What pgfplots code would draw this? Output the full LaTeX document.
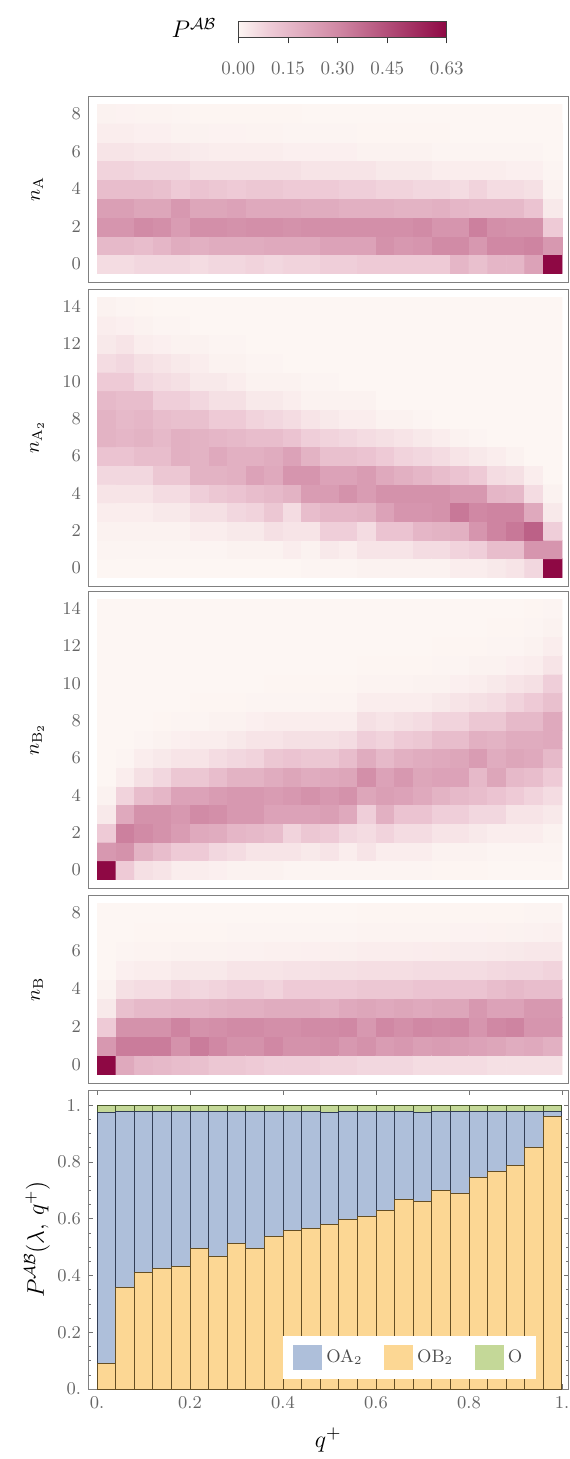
\documentclass[border=0pt]{standalone}
\usepackage{pgfplots}
\pgfplotsset{compat=1.18}
\definecolor{blueF}{RGB}{174,191,218}
\definecolor{orangeF}{RGB}{252,215,148}
\definecolor{greenF}{RGB}{196,216,152}
\definecolor{blueE}{RGB}{50,62,85}
\definecolor{orangeE}{RGB}{100,78,35}
\definecolor{greenE}{RGB}{70,85,40}
\pgfplotsset{
  colormap={pinkmap}{rgb255(0cm)=(253,246,243); rgb255(1cm)=(238,202,214); rgb255(3cm)=(208,136,164); rgb255(6.3cm)=(142,8,68)},
  hm/.style={scale only axis, width=240.25pt, anchor=north west,
    xmin=-1.011, xmax=24.85, xtick=\empty, major tick length=0pt,
    axis line style={black!50},
    colormap name=pinkmap, point meta min=0, point meta max=0.63,
    yticklabel style={font=\fontsize{9}{10}\selectfont, text=black!60},
    ylabel style={at={(rel axis cs:-0.106,0.5)}, anchor=center, font=\fontsize{10}{12}\selectfont}},
}
\pgfplotstableread{
x ob oa o
0.02 0.090 0.883 0.027
0.06 0.356 0.623 0.021
0.10 0.411 0.568 0.021
0.14 0.426 0.553 0.021
0.18 0.431 0.548 0.021
0.22 0.494 0.485 0.021
0.26 0.467 0.512 0.021
0.30 0.512 0.467 0.021
0.34 0.494 0.485 0.021
0.38 0.536 0.443 0.021
0.42 0.558 0.421 0.021
0.46 0.565 0.414 0.021
0.50 0.580 0.395 0.025
0.54 0.598 0.381 0.021
0.58 0.608 0.371 0.021
0.62 0.628 0.351 0.021
0.66 0.669 0.310 0.021
0.70 0.659 0.316 0.025
0.74 0.700 0.278 0.022
0.78 0.687 0.291 0.022
0.82 0.745 0.233 0.022
0.86 0.767 0.211 0.022
0.90 0.787 0.191 0.022
0.94 0.852 0.126 0.022
0.98 0.958 0.020 0.022
}\bardata
\begin{document}
\begin{tikzpicture}
\useasboundingbox (0,0) rectangle (284.5pt,-729.5pt);
\node[font=\fontsize{12}{14}\selectfont] at (97pt,-14pt) {$P^{\mathcal{AB}}$};
% ---------------- colour bar
\begin{axis}[at={(119.15pt,-18.65pt)}, anchor=south west, scale only axis,
  width=104.2pt, height=7.8pt, xmin=0, xmax=0.63, ymin=0, ymax=1,
  ytick=\empty, xtick={0,0.15,0.3,0.45,0.63}, xticklabels={0.00,0.15,0.30,0.45,0.63},
  xtick align=outside, xtick pos=left, major tick length=3pt,
  xticklabel style={font=\fontsize{9.5}{11}\selectfont, text=black!60, yshift=-5.5pt},
  axis line style={black!75}, tick style={black!80}, axis on top,
  colormap name=pinkmap, point meta min=0, point meta max=0.63]
\addplot[surf, shader=interp, point meta=x] coordinates {
(0,0) (0.1,0) (0.3,0) (0.63,0)

(0,1) (0.1,1) (0.3,1) (0.63,1)
};
\end{axis}
% ---------------- n_A
\begin{axis}[hm, at={(44pt,-48pt)}, height=93pt, ymin=-0.953, ymax=8.953,
  ytick={0,2,...,8}, ylabel={$n_{\mathrm{A}}$}]
\addplot[matrix plot*, mesh/cols=25, mesh/rows=9, point meta=explicit]
 table[row sep=\\, x expr={mod(\coordindex,25)}, y expr={floor((\coordindex+0.5)/25)}, meta=v] {
v\\
0.06\\0.06\\0.07\\0.07\\0.07\\0.06\\0.07\\0.07\\0.08\\0.07\\0.08\\0.08\\0.09\\0.09\\0.10\\0.10\\0.10\\0.10\\0.10\\0.16\\0.13\\0.16\\0.16\\0.22\\0.63\\
0.15\\0.15\\0.14\\0.16\\0.19\\0.18\\0.19\\0.19\\0.19\\0.20\\0.20\\0.20\\0.22\\0.22\\0.22\\0.27\\0.25\\0.26\\0.29\\0.29\\0.25\\0.30\\0.30\\0.31\\0.25\\
0.26\\0.26\\0.29\\0.28\\0.24\\0.28\\0.28\\0.27\\0.28\\0.28\\0.27\\0.28\\0.28\\0.28\\0.28\\0.28\\0.28\\0.29\\0.26\\0.26\\0.32\\0.28\\0.27\\0.27\\0.10\\
0.23\\0.23\\0.21\\0.21\\0.25\\0.21\\0.21\\0.22\\0.20\\0.20\\0.20\\0.19\\0.19\\0.18\\0.18\\0.18\\0.17\\0.17\\0.18\\0.16\\0.15\\0.15\\0.15\\0.12\\0.03\\
0.14\\0.14\\0.14\\0.13\\0.10\\0.12\\0.11\\0.10\\0.11\\0.11\\0.10\\0.10\\0.10\\0.09\\0.09\\0.08\\0.08\\0.07\\0.07\\0.06\\0.08\\0.06\\0.06\\0.05\\0.01\\
0.08\\0.08\\0.07\\0.07\\0.07\\0.05\\0.05\\0.05\\0.05\\0.05\\0.05\\0.04\\0.04\\0.04\\0.04\\0.03\\0.03\\0.03\\0.02\\0.02\\0.02\\0.02\\0.015\\0.015\\0.005\\
0.04\\0.04\\0.035\\0.035\\0.03\\0.025\\0.02\\0.02\\0.02\\0.02\\0.015\\0.015\\0.015\\0.015\\0.01\\0.01\\0.01\\0.01\\0.005\\0.005\\0.005\\0.005\\0.005\\0.005\\0\\
0.02\\0.02\\0.015\\0.015\\0.01\\0.01\\0.008\\0.008\\0.006\\0.006\\0.005\\0.005\\0.004\\0.004\\0.003\\0.003\\0.002\\0.002\\0.002\\0.001\\0.001\\0.001\\0.001\\0.001\\0\\
0.01\\0.008\\0.006\\0.006\\0.004\\0.003\\0.003\\0.002\\0.002\\0.002\\0.002\\0.001\\0.001\\0.001\\0.001\\0.001\\0.001\\0\\0\\0\\0\\0\\0\\0\\0\\
};
\end{axis}
% ---------------- n_A2
\begin{axis}[hm, at={(44pt,-144.5pt)}, height=148.5pt, ymin=-0.955, ymax=14.955,
  ytick={0,2,...,14}, ylabel={$n_{\mathrm{A}_2}$}]
\addplot[matrix plot*, mesh/cols=25, mesh/rows=15, mesh/ordering=y varies, point meta=explicit]
 table[row sep=\\, x expr={floor((\coordindex+0.5)/15)}, y expr={mod(\coordindex,15)}, meta=v] {
v\\
0\\0.005\\0.01\\0.02\\0.04\\0.07\\0.12\\0.17\\0.17\\0.15\\0.10\\0.06\\0.03\\0.02\\0.01\\
0\\0.005\\0.01\\0.02\\0.04\\0.07\\0.12\\0.16\\0.15\\0.14\\0.10\\0.07\\0.04\\0.015\\0.005\\
0\\0.005\\0.01\\0.02\\0.04\\0.07\\0.14\\0.17\\0.16\\0.14\\0.07\\0.05\\0.02\\0.01\\0.003\\
0\\0.005\\0.01\\0.03\\0.06\\0.11\\0.14\\0.15\\0.14\\0.09\\0.06\\0.04\\0.015\\0.005\\0\\
0\\0.005\\0.01\\0.03\\0.06\\0.11\\0.18\\0.18\\0.13\\0.09\\0.05\\0.03\\0.01\\0.005\\0\\
0\\0.005\\0.02\\0.05\\0.09\\0.17\\0.17\\0.17\\0.13\\0.07\\0.03\\0.02\\0.01\\0\\0\\
0\\0.005\\0.02\\0.05\\0.11\\0.17\\0.20\\0.16\\0.10\\0.05\\0.03\\0.01\\0.005\\0\\0\\
0\\0.01\\0.03\\0.07\\0.12\\0.18\\0.18\\0.15\\0.10\\0.05\\0.02\\0.01\\0.005\\0\\0\\
0\\0.01\\0.03\\0.08\\0.14\\0.22\\0.18\\0.14\\0.08\\0.03\\0.01\\0.005\\0\\0\\0\\
0\\0.01\\0.05\\0.11\\0.15\\0.20\\0.19\\0.14\\0.07\\0.03\\0.01\\0.005\\0\\0\\0\\
0\\0.02\\0.04\\0.06\\0.17\\0.26\\0.22\\0.12\\0.06\\0.02\\0.01\\0\\0\\0\\0\\
0.005\\0.01\\0.04\\0.14\\0.24\\0.26\\0.17\\0.09\\0.04\\0.01\\0.005\\0\\0\\0\\0\\
0.005\\0.03\\0.09\\0.16\\0.24\\0.22\\0.13\\0.08\\0.03\\0.01\\0.005\\0\\0\\0\\0\\
0.005\\0.02\\0.09\\0.16\\0.27\\0.22\\0.13\\0.07\\0.02\\0.01\\0\\0\\0\\0\\0\\
0.01\\0.04\\0.06\\0.17\\0.24\\0.24\\0.12\\0.06\\0.02\\0.01\\0\\0\\0\\0\\0\\
0.01\\0.04\\0.12\\0.22\\0.27\\0.20\\0.10\\0.05\\0.01\\0\\0\\0\\0\\0\\0\\
0.01\\0.04\\0.12\\0.26\\0.27\\0.18\\0.08\\0.04\\0.01\\0\\0\\0\\0\\0\\0\\
0.01\\0.06\\0.16\\0.26\\0.27\\0.16\\0.07\\0.03\\0.005\\0\\0\\0\\0\\0\\0\\
0.01\\0.06\\0.17\\0.27\\0.27\\0.14\\0.06\\0.02\\0\\0\\0\\0\\0\\0\\0\\
0.02\\0.08\\0.18\\0.34\\0.25\\0.12\\0.04\\0.01\\0\\0\\0\\0\\0\\0\\0\\
0.02\\0.09\\0.26\\0.30\\0.25\\0.10\\0.03\\0.005\\0\\0\\0\\0\\0\\0\\0\\
0.03\\0.14\\0.31\\0.31\\0.16\\0.06\\0.02\\0\\0\\0\\0\\0\\0\\0\\0\\
0.04\\0.14\\0.34\\0.31\\0.15\\0.05\\0.01\\0\\0\\0\\0\\0\\0\\0\\0\\
0.07\\0.26\\0.40\\0.20\\0.06\\0.02\\0\\0\\0\\0\\0\\0\\0\\0\\0\\
0.63\\0.26\\0.09\\0.03\\0.01\\0\\0\\0\\0\\0\\0\\0\\0\\0\\0\\
};
\end{axis}
% ---------------- n_B2
\begin{axis}[hm, at={(44pt,-295.5pt)}, height=148.5pt, ymin=-0.955, ymax=14.955,
  ytick={0,2,...,14}, ylabel={$n_{\mathrm{B}_2}$}]
\addplot[matrix plot*, mesh/cols=25, mesh/rows=15, mesh/ordering=y varies, point meta=explicit]
 table[row sep=\\, x expr={floor((\coordindex+0.5)/15)}, y expr={mod(\coordindex,15)}, meta=v] {
v\\
0.63\\0.25\\0.10\\0.03\\0.01\\0\\0\\0\\0\\0\\0\\0\\0\\0\\0\\
0.10\\0.27\\0.32\\0.20\\0.08\\0.02\\0.005\\0\\0\\0\\0\\0\\0\\0\\0\\
0.05\\0.17\\0.29\\0.27\\0.14\\0.05\\0.02\\0.005\\0\\0\\0\\0\\0\\0\\0\\
0.04\\0.14\\0.27\\0.27\\0.16\\0.07\\0.03\\0.01\\0.003\\0\\0\\0\\0\\0\\0\\
0.02\\0.10\\0.24\\0.25\\0.22\\0.11\\0.04\\0.015\\0.005\\0\\0\\0\\0\\0\\0\\
0.02\\0.10\\0.20\\0.29\\0.22\\0.11\\0.04\\0.02\\0.005\\0.002\\0\\0\\0\\0\\0\\
0.015\\0.07\\0.19\\0.28\\0.24\\0.14\\0.06\\0.02\\0.01\\0.003\\0\\0\\0\\0\\0\\
0.01\\0.06\\0.16\\0.25\\0.25\\0.17\\0.07\\0.03\\0.01\\0.003\\0.001\\0\\0\\0\\0\\
0.01\\0.04\\0.15\\0.25\\0.25\\0.17\\0.08\\0.04\\0.015\\0.005\\0.001\\0\\0\\0\\0\\
0.01\\0.04\\0.14\\0.22\\0.24\\0.19\\0.11\\0.04\\0.02\\0.005\\0.002\\0\\0\\0\\0\\
0.005\\0.04\\0.08\\0.22\\0.25\\0.21\\0.12\\0.05\\0.02\\0.005\\0.002\\0\\0\\0\\0\\
0.005\\0.03\\0.11\\0.22\\0.27\\0.19\\0.11\\0.05\\0.02\\0.005\\0.002\\0\\0\\0\\0\\
0.005\\0.04\\0.10\\0.23\\0.25\\0.20\\0.11\\0.05\\0.02\\0.006\\0.002\\0\\0\\0\\0\\
0.005\\0.02\\0.07\\0.20\\0.27\\0.21\\0.14\\0.06\\0.02\\0.006\\0.002\\0.001\\0\\0\\0\\
0.005\\0.04\\0.06\\0.09\\0.21\\0.28\\0.19\\0.09\\0.05\\0.02\\0.006\\0.002\\0\\0\\0\\
0.005\\0.02\\0.08\\0.18\\0.23\\0.22\\0.15\\0.08\\0.04\\0.02\\0.006\\0.002\\0.001\\0\\0\\
0.005\\0.02\\0.06\\0.12\\0.22\\0.25\\0.18\\0.10\\0.05\\0.02\\0.007\\0.002\\0.001\\0\\0\\
0.005\\0.02\\0.06\\0.12\\0.20\\0.21\\0.19\\0.11\\0.06\\0.02\\0.01\\0.003\\0.001\\0\\0\\
0.002\\0.01\\0.04\\0.09\\0.17\\0.22\\0.20\\0.14\\0.08\\0.03\\0.01\\0.005\\0.002\\0.001\\0\\
0.002\\0.01\\0.04\\0.09\\0.15\\0.22\\0.21\\0.14\\0.08\\0.04\\0.015\\0.005\\0.002\\0.001\\0\\
0.002\\0.01\\0.03\\0.07\\0.14\\0.15\\0.24\\0.18\\0.11\\0.05\\0.02\\0.01\\0.003\\0.001\\0\\
0.001\\0.005\\0.02\\0.07\\0.12\\0.21\\0.19\\0.17\\0.11\\0.06\\0.03\\0.01\\0.005\\0.002\\0.001\\
0.001\\0.005\\0.02\\0.04\\0.10\\0.15\\0.21\\0.19\\0.15\\0.08\\0.04\\0.015\\0.005\\0.002\\0.001\\
0.001\\0.005\\0.02\\0.04\\0.08\\0.14\\0.20\\0.19\\0.15\\0.10\\0.05\\0.02\\0.01\\0.004\\0.002\\
0.001\\0.005\\0.01\\0.03\\0.06\\0.10\\0.15\\0.20\\0.20\\0.13\\0.09\\0.04\\0.02\\0.01\\0.005\\
};
\end{axis}
% ---------------- n_B
\begin{axis}[hm, at={(44pt,-447.5pt)}, height=94pt, ymin=-0.947, ymax=8.947,
  ytick={0,2,...,8}, ylabel={$n_{\mathrm{B}}$}]
\addplot[matrix plot*, mesh/cols=25, mesh/rows=9, mesh/ordering=y varies, point meta=explicit]
 table[row sep=\\, x expr={floor((\coordindex+0.5)/9)}, y expr={mod(\coordindex,9)}, meta=v] {
v\\
0.63\\0.25\\0.10\\0.03\\0.01\\0\\0\\0\\0\\
0.20\\0.33\\0.27\\0.13\\0.05\\0.015\\0.005\\0\\0\\
0.16\\0.33\\0.27\\0.15\\0.06\\0.02\\0.007\\0.002\\0\\
0.15\\0.33\\0.27\\0.15\\0.06\\0.02\\0.007\\0.002\\0\\
0.14\\0.27\\0.31\\0.16\\0.08\\0.03\\0.01\\0.003\\0\\
0.13\\0.33\\0.27\\0.16\\0.07\\0.03\\0.01\\0.003\\0\\
0.11\\0.30\\0.28\\0.17\\0.08\\0.03\\0.01\\0.003\\0\\
0.11\\0.27\\0.29\\0.18\\0.09\\0.04\\0.012\\0.004\\0\\
0.10\\0.27\\0.29\\0.18\\0.09\\0.04\\0.012\\0.004\\0\\
0.09\\0.30\\0.28\\0.19\\0.08\\0.04\\0.013\\0.004\\0.001\\
0.09\\0.27\\0.28\\0.19\\0.10\\0.045\\0.014\\0.004\\0.001\\
0.09\\0.27\\0.29\\0.19\\0.10\\0.045\\0.015\\0.005\\0.001\\
0.08\\0.28\\0.29\\0.18\\0.10\\0.05\\0.016\\0.005\\0.001\\
0.08\\0.25\\0.30\\0.20\\0.10\\0.05\\0.017\\0.005\\0.001\\
0.07\\0.27\\0.25\\0.21\\0.11\\0.055\\0.02\\0.006\\0.002\\
0.07\\0.24\\0.30\\0.20\\0.11\\0.055\\0.02\\0.006\\0.002\\
0.07\\0.25\\0.28\\0.21\\0.11\\0.055\\0.02\\0.006\\0.002\\
0.06\\0.23\\0.30\\0.20\\0.12\\0.06\\0.022\\0.007\\0.002\\
0.06\\0.24\\0.29\\0.21\\0.12\\0.06\\0.023\\0.007\\0.002\\
0.06\\0.23\\0.30\\0.21\\0.12\\0.06\\0.024\\0.008\\0.002\\
0.06\\0.22\\0.26\\0.25\\0.12\\0.06\\0.025\\0.008\\0.002\\
0.05\\0.21\\0.30\\0.22\\0.14\\0.065\\0.027\\0.009\\0.003\\
0.05\\0.19\\0.31\\0.22\\0.15\\0.07\\0.03\\0.01\\0.003\\
0.05\\0.20\\0.26\\0.25\\0.14\\0.07\\0.035\\0.012\\0.004\\
0.05\\0.18\\0.26\\0.25\\0.14\\0.08\\0.035\\0.013\\0.004\\
};
\end{axis}
% ---------------- stacked bars
\begin{axis}[at={(44pt,-545pt)}, anchor=north west, scale only axis,
  width=240.25pt, height=149.5pt,
  xmin=-0.0194, xmax=1.014, ymin=0, ymax=1.053,
  ybar stacked, bar width=0.04,
  xtick={0,0.2,0.4,0.6,0.8,1}, xticklabels={0.,0.2,0.4,0.6,0.8,1.},
  ytick={0,0.2,0.4,0.6,0.8,1}, yticklabels={0.,0.2,0.4,0.6,0.8,1.},
  minor y tick num=3,
  tick align=inside, major tick length=2.5pt, minor tick length=1.5pt,
  tick style={black!55}, axis line style={black!50},
  ticklabel style={font=\fontsize{9}{10}\selectfont, text=black!60},
  ylabel={$P^{\mathcal{AB}}(\lambda,\,q^{+})$},
  ylabel style={at={(rel axis cs:-0.106,0.5)}, anchor=center, font=\fontsize{12}{14}\selectfont},
  xlabel={$q^{+}$},
  xlabel style={at={(rel axis cs:0.5,0)}, anchor=center, yshift=-25.5pt, font=\fontsize{13}{15}\selectfont},
  legend columns=3,
  legend style={at={(0.406,0.033)}, anchor=south west, draw=none, fill=white,
    font=\fontsize{9}{10}\selectfont, text=black!70, inner xsep=5pt, inner ysep=4.5pt,
    /tikz/every even column/.append style={column sep=9pt}},
]
\addplot[fill=orangeF, draw=orangeE, line width=0.5pt, forget plot] table[x=x, y=ob] {\bardata};
\addplot[fill=blueF, draw=blueE, line width=0.5pt, forget plot] table[x=x, y=oa] {\bardata};
\addplot[fill=greenF, draw=greenE, line width=0.5pt, forget plot] table[x=x, y=o] {\bardata};
\addlegendimage{legend image code/.code={\fill[blueF] (0pt,-6pt) rectangle (14pt,6pt);}}
\addlegendentry{OA$_2$}
\addlegendimage{legend image code/.code={\fill[orangeF] (0pt,-6pt) rectangle (14pt,6pt);}}
\addlegendentry{OB$_2$}
\addlegendimage{legend image code/.code={\fill[greenF] (0pt,-6pt) rectangle (14pt,6pt);}}
\addlegendentry{O}
\end{axis}
\end{tikzpicture}
\end{document}
